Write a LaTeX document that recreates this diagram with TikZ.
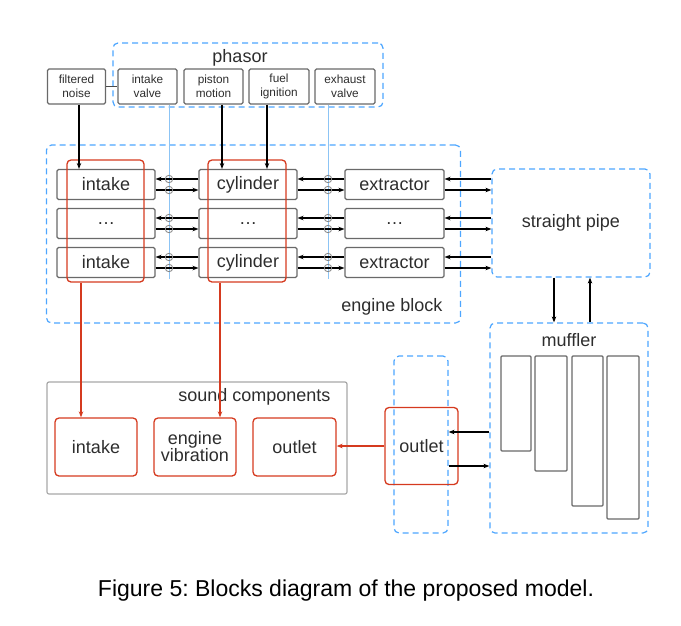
\documentclass[tikz,border=0pt]{standalone}
\usepackage{fontspec}
\setmainfont{Liberation Sans}
\usetikzlibrary{arrows.meta}
\definecolor{dblue}{RGB}{77,166,255}
\definecolor{lblue}{RGB}{140,196,245}
\definecolor{dred}{RGB}{213,58,31}
\definecolor{bgray}{RGB}{105,105,105}
\definecolor{lgray}{RGB}{168,168,168}
\definecolor{txt}{RGB}{45,45,45}
\tikzset{
  big/.style={font=\fontsize{18}{20}\selectfont, text=txt},
  small/.style={font=\fontsize{11.8}{14.5}\selectfont, text=txt, align=center},
  gbox/.style={draw=bgray, line width=1.1pt, rounded corners=1.5pt, inner sep=0pt, big},
  tbox/.style={draw=bgray, line width=1.1pt, rounded corners=1.5pt, inner sep=0pt, small},
  rbox/.style={draw=dred, line width=1.3pt, rounded corners=4pt, inner sep=0pt, big, align=center},
  dbox/.style={draw=dblue, line width=1.2pt, dash pattern=on 6pt off 4pt, rounded corners=5pt, inner sep=0pt},
  arr/.style={-{Stealth[length=6pt,width=4.5pt]}, line width=1.2pt, black},
  rarr/.style={-{Stealth[length=6pt,width=4.5pt]}, line width=1.2pt, dred},
  vline/.style={draw=lblue, line width=1pt},
  junc/.style={draw=bgray!80, line width=0.8pt, circle, minimum size=7.5pt, inner sep=0pt},
}
\begin{document}
\frenchspacing
\begin{tikzpicture}[x=1pt,y=-1pt]
\useasboundingbox (0,0) rectangle (681,625);

% phasor
\node[dbox, minimum width=270pt, minimum height=64pt] (phasor) at (248,75) {};
\node[big] (phasorlbl) at (240,58) {phasor};
\node[tbox, minimum width=58pt, minimum height=35pt] (fn) at (76.5,86.5) {filtered\\noise};
\node[tbox, minimum width=59pt, minimum height=35pt] (iv) at (147.5,86.5) {intake\\valve};
\node[tbox, minimum width=59pt, minimum height=35pt] (pm) at (213.5,86.5) {piston\\motion};
\node[tbox, minimum width=60pt, minimum height=35pt] (fi) at (279,86.5) {fuel\\ignition};
\node[tbox, minimum width=60pt, minimum height=35pt] (ev) at (345,86.5) {exhaust\\valve};
\draw[bgray!70!black, line width=1pt] (fn.east) -- (iv.west);

% engine block
\node[dbox, minimum width=414pt, minimum height=178pt] (eng) at (253.5,234) {};
\node[big] (englbl) at (392,307) {engine block};

% rows
\foreach \r/\y/\a/\b/\c in {1/184.5/intake/cylinder/extractor, 2/223.5/\dots/\dots/\dots, 3/262.5/intake/cylinder/extractor}{
  \node[gbox, minimum width=98pt, minimum height=30pt] (in\r) at (106,\y) {\a};
  \node[gbox, minimum width=98pt, minimum height=30pt] (cy\r) at (248,\y) {\b};
  \node[gbox, minimum width=99pt, minimum height=30pt] (ex\r) at (394.5,\y) {\c};
}

% straight pipe
\node[dbox, minimum width=158pt, minimum height=108pt, big] (sp) at (571,223) {straight pipe};

% red groups
\node[rbox, minimum width=77pt, minimum height=122pt] (ig) at (105.5,221) {};
\node[rbox, minimum width=78pt, minimum height=122pt] (cg) at (247,221) {};

% vertical phasor lines
\coordinate (v1) at (169,279);
\coordinate (v2) at (328,279);
\draw[vline] (iv.south -| v1) -- (v1);
\draw[vline] (ev.south -| v2) -- (v2);

% row arrows
\foreach \r in {1,2,3}{
  \draw[arr] ([yshift=5.5pt]cy\r.west) -- ([yshift=5.5pt]in\r.east);
  \draw[arr] ([yshift=-5.5pt]in\r.east) -- ([yshift=-5.5pt]cy\r.west);
  \draw[arr] ([yshift=5.5pt]ex\r.west) -- ([yshift=5.5pt]cy\r.east);
  \draw[arr] ([yshift=-5.5pt]cy\r.east) -- ([yshift=-5.5pt]ex\r.west);
  \draw[arr] ([yshift=5.5pt]ex\r.east -| sp.west) -- ([yshift=5.5pt]ex\r.east);
  \draw[arr] ([yshift=-5.5pt]ex\r.east) -- ([yshift=-5.5pt]ex\r.east -| sp.west);
  \node[junc] (ja\r) at ([yshift=5.5pt]in\r.east -| v1) {};
  \node[junc] (jb\r) at ([yshift=-5.5pt]in\r.east -| v1) {};
  \node[junc] (jc\r) at ([yshift=5.5pt]cy\r.east -| v2) {};
  \node[junc] (jd\r) at ([yshift=-5.5pt]cy\r.east -| v2) {};
}

% top arrows
\coordinate (fnx) at (79,0);
\coordinate (pmx) at (222,0);
\coordinate (fix) at (267,0);
\draw[arr] (fn.south -| fnx) -- (in1.north -| fnx);
\draw[arr] (pm.south -| pmx) -- (cy1.north -| pmx);
\draw[arr] (fi.south -| fix) -- (cy1.north -| fix);

% muffler
\node[dbox, minimum width=158pt, minimum height=210pt] (mu) at (569,428) {};
\node[big] (mulbl) at (569,340) {muffler};
\draw[bgray, line width=1.1pt, rounded corners=1pt] (501,356) rectangle (531,451);
\draw[bgray, line width=1.1pt, rounded corners=1pt] (535,356) rectangle (567,471);
\draw[bgray, line width=1.1pt, rounded corners=1pt] (572,356) rectangle (603,506);
\draw[bgray, line width=1.1pt, rounded corners=1pt] (607,356) rectangle (639,519);

\coordinate (dx) at (554,0);
\coordinate (ux) at (590,0);
\draw[arr] (sp.south -| dx) -- (mu.north -| dx);
\draw[arr] (mu.north -| ux) -- (sp.south -| ux);

% outlet
\node[dbox, minimum width=54pt, minimum height=177pt] (od) at (421,444.5) {};
\node[rbox, minimum width=73pt, minimum height=77pt] (ol) at (421.5,446) {outlet};
\coordinate (oa) at (0,432);
\coordinate (ob) at (0,466);
\draw[arr] (mu.west |- oa) -- (od.east |- oa);
\draw[arr] (od.east |- ob) -- (mu.west |- ob);

% sound components
\node[draw=lgray, line width=1.2pt, rounded corners=2pt, minimum width=300pt, minimum height=112pt, inner sep=0pt] (sc) at (197,438) {};
\node[big, anchor=east] (sclbl) at (334,397) {sound components};
\node[rbox, minimum width=82pt, minimum height=58pt] (si) at (96,447) {intake};
\node[rbox, minimum width=82pt, minimum height=58pt] (se) at (195,447) {engine\\[-3pt]vibration};
\node[rbox, minimum width=83pt, minimum height=58pt] (so) at (294.5,447) {outlet};

\coordinate (r1) at (81,0);
\coordinate (r2) at (220,0);
\draw[rarr] (ig.south -| r1) -- (si.north -| r1);
\draw[rarr] (cg.south -| r2) -- (se.north -| r2);
\draw[rarr] (ol.west) -- (ol.west -| so.east);

% caption
\node[font=\fontsize{23}{26}\selectfont, text=black] (cap) at (346,591) {Figure 5: Blocks diagram of the proposed model.};
\end{tikzpicture}
\end{document}
